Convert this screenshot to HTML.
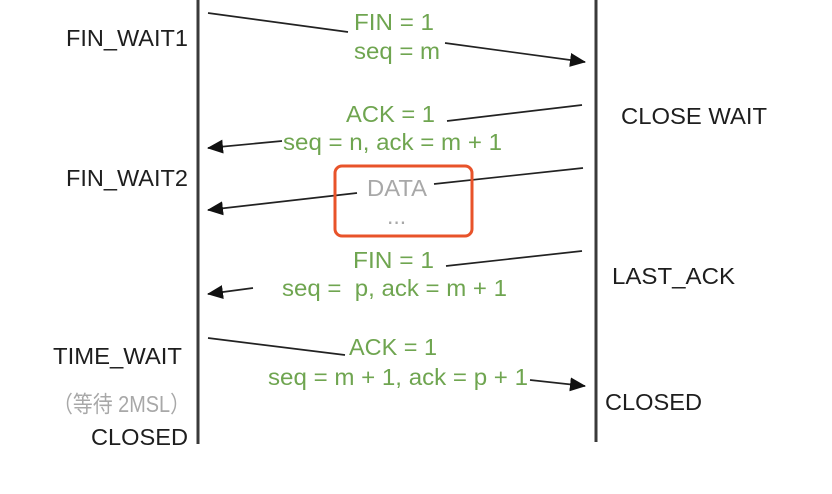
<!DOCTYPE html>
<html><head><meta charset="utf-8"><style>
html,body{margin:0;padding:0;background:#fff;}
svg{display:block;}
text{font-family:"Liberation Sans","Noto Sans CJK SC",sans-serif;font-size:23px;}
.k{fill:#1e1e1e;}
.g{fill:#6fa550;}
.d{fill:#a8a8a8;}
</style></head><body>
<svg width="832" height="494" viewBox="0 0 832 494" xmlns="http://www.w3.org/2000/svg">
<defs>
<marker id="a" markerWidth="16" markerHeight="14" refX="15" refY="7" orient="auto" markerUnits="userSpaceOnUse">
<path d="M0,0 L16,7 L0,14 Z" fill="#111"/></marker>
</defs>
<line x1="198" y1="0" x2="198" y2="444" stroke="#3a3a3a" stroke-width="3"/>
<line x1="596" y1="0" x2="596" y2="442" stroke="#3a3a3a" stroke-width="3"/>
<g stroke="#222" stroke-width="1.7" fill="none">
<line x1="208" y1="13" x2="348" y2="32"/>
<line x1="445" y1="43" x2="585" y2="62" marker-end="url(#a)"/>
<line x1="582" y1="105" x2="447" y2="121"/>
<line x1="282" y1="141" x2="208" y2="148" marker-end="url(#a)"/>
<line x1="583" y1="168" x2="434" y2="184"/>
<line x1="357" y1="193" x2="208" y2="210" marker-end="url(#a)"/>
<line x1="582" y1="251" x2="446" y2="266"/>
<line x1="253" y1="288" x2="208" y2="294" marker-end="url(#a)"/>
<line x1="208" y1="338" x2="345" y2="355"/>
<line x1="530" y1="380" x2="585" y2="386" marker-end="url(#a)"/>
</g>
<rect x="335" y="166" width="137" height="70" rx="7" fill="none" stroke="#e8532a" stroke-width="3"/>
<g>
<text class="g" x="354" y="30" textLength="80" lengthAdjust="spacingAndGlyphs">FIN = 1</text>
<text class="g" x="354" y="59" textLength="86" lengthAdjust="spacingAndGlyphs">seq = m</text>
<text class="g" x="346" y="122" textLength="89" lengthAdjust="spacingAndGlyphs">ACK = 1</text>
<text class="g" x="283" y="150" textLength="219" lengthAdjust="spacingAndGlyphs">seq = n, ack = m + 1</text>
<text class="d" x="367" y="196" textLength="60" lengthAdjust="spacingAndGlyphs">DATA</text>
<text class="d" x="387" y="224">...</text>
<text class="g" x="353" y="268" textLength="81" lengthAdjust="spacingAndGlyphs">FIN = 1</text>
<text class="g" x="282" y="296" textLength="225" lengthAdjust="spacingAndGlyphs">seq = &#160;p, ack = m + 1</text>
<text class="g" x="349" y="355" textLength="88" lengthAdjust="spacingAndGlyphs">ACK = 1</text>
<text class="g" x="268" y="385" textLength="260" lengthAdjust="spacingAndGlyphs">seq = m + 1, ack = p + 1</text>
<text class="k" x="66" y="46" textLength="122" lengthAdjust="spacingAndGlyphs">FIN_WAIT1</text>
<text class="k" x="66" y="186" textLength="122" lengthAdjust="spacingAndGlyphs">FIN_WAIT2</text>
<text class="k" x="53" y="364" textLength="129" lengthAdjust="spacingAndGlyphs">TIME_WAIT</text>
<text class="d" x="53" y="412" textLength="137" lengthAdjust="spacingAndGlyphs">（等待 2MSL）</text>
<text class="k" x="91" y="445" textLength="97" lengthAdjust="spacingAndGlyphs">CLOSED</text>
<text class="k" x="621" y="124" textLength="146" lengthAdjust="spacingAndGlyphs">CLOSE WAIT</text>
<text class="k" x="612" y="284" textLength="123" lengthAdjust="spacingAndGlyphs">LAST_ACK</text>
<text class="k" x="605" y="410" textLength="97" lengthAdjust="spacingAndGlyphs">CLOSED</text>
</g>
</svg>
</body></html>
